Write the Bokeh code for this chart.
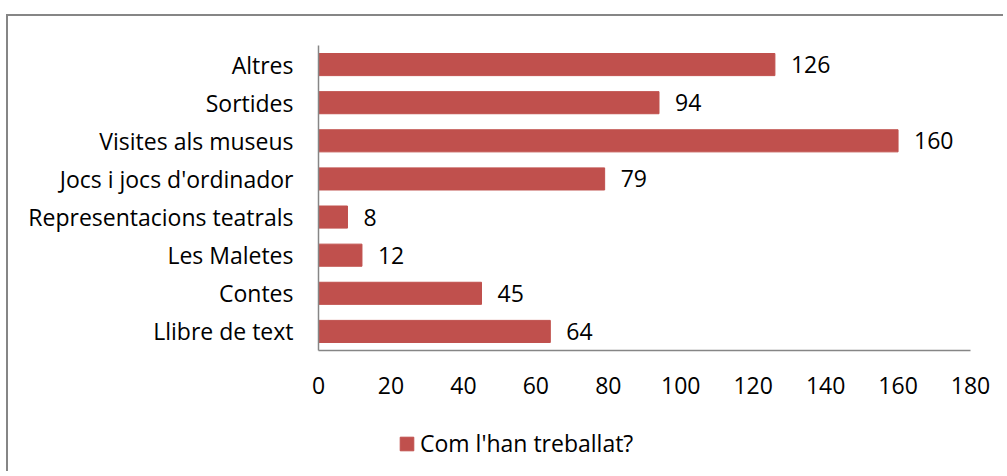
from bokeh.plotting import figure
from bokeh.layouts import column
from bokeh.models import FactorRange, Range1d, FixedTicker, Legend, LegendItem, ColumnDataSource
from bokeh.core.properties import value
from bokeh.embed import file_html
from bokeh.resources import INLINE

categories = ["Llibre de text", "Contes", "Les Maletes", "Representacions teatrals",
              "Jocs i jocs d'ordinador", "Visites als museus", "Sortides", "Altres"]
values = [64, 45, 12, 8, 79, 160, 94, 126]
series_name = "Com l'han treballat?"
x_ticks = [0, 20, 40, 60, 80, 100, 120, 140, 160, 180]

FONT = "Open Sans"
FS = "23px"
BAR = "#C0504D"
GRAY = "#868686"

src = ColumnDataSource(dict(cat=categories, val=values, lab=[str(v) for v in values]))

p = figure(width=995, height=400, y_range=FactorRange(*categories, range_padding=0),
           x_range=Range1d(0, 180), output_backend="svg", toolbar_location=None,
           min_border_left=310, min_border_right=33, min_border_top=29, min_border_bottom=66)
p.outline_line_color = None
p.grid.grid_line_color = None
p.background_fill_color = "white"
p.border_fill_color = "white"

r = p.hbar(y="cat", right="val", left=0, height=0.58, source=src, fill_color=BAR, line_color=BAR)
p.text(x="val", y="cat", text="lab", source=src, x_offset=16, text_baseline="middle",
       text_align="left", text_font=value(FONT), text_font_size=FS, text_color="black")

p.xaxis.ticker = FixedTicker(ticks=x_ticks)
for ax in (p.xaxis[0], p.yaxis[0]):
    ax.major_tick_line_color = None
    ax.minor_tick_line_color = None
    ax.axis_line_color = GRAY
    ax.axis_line_width = 1.5
    ax.major_label_text_font = FONT
    ax.major_label_text_font_size = FS
    ax.major_label_text_color = "black"
p.xaxis.major_label_standoff = 20
p.yaxis.major_label_standoff = 19

# legend strip (its frame is aligned with the main plot's frame by the column layout)
p2 = figure(width=995, height=55, x_range=Range1d(0, 1), y_range=Range1d(0, 1),
            output_backend="svg", toolbar_location=None,
            min_border_left=0, min_border_right=0, min_border_top=0, min_border_bottom=0)
p2.axis.visible = False
p2.grid.grid_line_color = None
p2.outline_line_color = None
# off-screen proxy renderer that only supplies the legend swatch style
dummy = p2.hbar(y=[-10], right=[-9], left=-10, height=0.5, fill_color=BAR, line_color=BAR)
legend = Legend(items=[LegendItem(label=series_name, renderers=[dummy])], location=(80, 12),
                label_text_font=FONT, label_text_font_size=FS, label_text_color="black",
                glyph_width=17, glyph_height=17,
                label_standoff=5, padding=0, margin=0, border_line_color=None,
                background_fill_alpha=0)
p2.add_layout(legend, "center")

layout = column(p, p2, spacing=0,
                styles={"border-top": "2px solid " + GRAY, "border-left": "2px solid " + GRAY,
                        "margin-top": "14px", "margin-left": "6px"})

open("out.html", "w").write(file_html(layout, INLINE))
